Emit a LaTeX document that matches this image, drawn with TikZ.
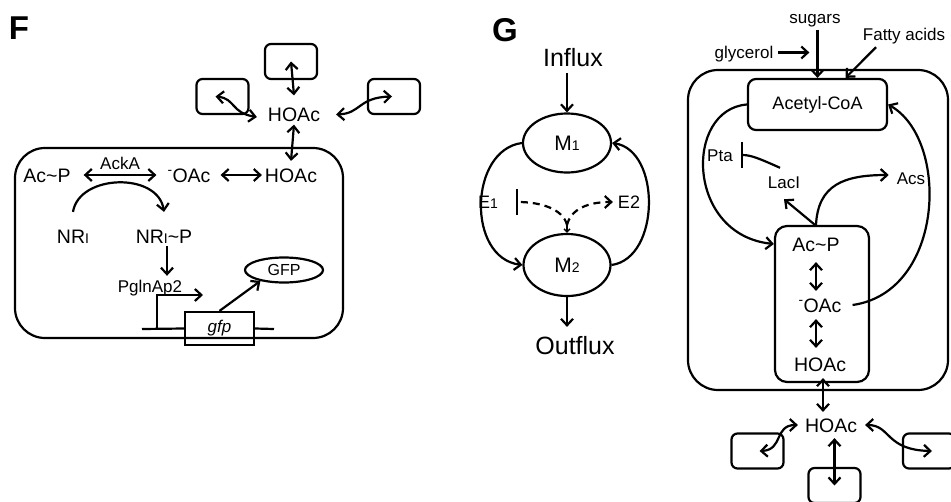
\documentclass[tikz,border=0pt]{standalone}
\usepackage{fontspec}
\setmainfont{Liberation Sans}
\usetikzlibrary{arrows.meta,shapes.geometric}
\newcommand{\lowidx}[1]{{\fontsize{14}{14}\selectfont #1}}
\newcommand{\anion}{\textsuperscript{-}}

\begin{document}
\begin{tikzpicture}[x=1pt, y=-1pt, line width=2.2pt,
	>={Straight Barb[length=6.5pt,width=12pt]},
	txt/.style={font=\fontsize{19.5}{20}\selectfont, inner sep=0pt, text height=14pt, text depth=0pt},
	sml/.style={font=\fontsize{17}{18}\selectfont, inner sep=0pt, text height=12.2pt, text depth=0pt},
	big/.style={font=\fontsize{25}{26}\selectfont, inner sep=0pt, text height=18pt, text depth=0pt},
	panel/.style={font=\fontsize{33}{34}\selectfont\bfseries, inner sep=0pt, text height=24pt, text depth=0pt},
	env/.style={draw, rounded corners=6pt, minimum width=52pt, minimum height=35pt, inner sep=0pt},
	cell/.style={draw, rounded corners=30pt, inner sep=0pt},
	pool/.style={draw, ellipse, inner sep=0pt},
	inhib/.style={-{Bar[width=26pt]}},
	flux/.style={dash pattern=on 7pt off 5pt}]
	\useasboundingbox (0,0) rectangle (951,501);

	% panel F
	\node[panel] (labF) at (19,27) {F};
	\node[env] (envT) at (291,61.5) {};
	\node[env] (envL) at (222.5,96.5) {};
	\node[env] (envR) at (394,96.5) {};
	\node[txt] (hoacX) at (294,114.5) {HOAc};
	\node[cell, minimum width=328pt, minimum height=190pt] (cellF) at (179,243) {};
	\node[txt] (acpF) at (47,175) {Ac\textasciitilde P};
	\node[txt] (oacF) at (189,175) {\anion OAc};
	\node[txt] (hoacF) at (291,175) {HOAc};
	\node[txt] (nrF) at (73,236) {NR\lowidx{I}};
	\node[txt] (nrpF) at (164,236) {NR\lowidx{I}\textasciitilde P};
	\node[sml] (pgln) at (150,286) {PglnAp2};
	\node[draw, minimum width=69pt, minimum height=33pt, inner sep=0pt, font=\fontsize{17}{18}\selectfont\itshape] (gene) at (219.5,328.5) {gfp};
	\node[pool, minimum width=78pt, minimum height=25pt, font=\fontsize{16}{17}\selectfont] (gfpP) at (284,270) {GFP};
	\coordinate (tss) at (157,329);
	\coordinate (tssEnd) at (203,295);
	\coordinate (dnaL) at (142,329);
	\coordinate (dnaR) at (274,329);

	\draw[<->] (envT.center) -- ([yshift=11pt]hoacX.north);
	\draw[<->] ([xshift=-7pt]envL.center) .. controls +(20,2) and +(-26,-4) .. ([shift={(-10pt,-2.5pt)}]hoacX.west);
	\draw[<->] ([xshift=15pt]hoacX.east) .. controls +(25,-1) and +(-34,1) .. ([xshift=-2pt]envR.center);
	\draw[<->] ([yshift=-2pt]hoacX.south) -- ([yshift=6pt]hoacF.north);
	\draw[<->] ([xshift=12pt]acpF.east) -- node[sml, above=4pt] (ackA) {AckA} ([xshift=-10pt]oacF.west);
	\draw[<->] ([xshift=9pt]oacF.east) -- ([xshift=-2pt]hoacF.west);
	\draw[->] ([yshift=16pt]nrF.north) .. controls +(6,-38) and +(-6,-40) .. ([yshift=16pt]nrpF.north);
	\draw[->] ([shift={(3pt,-2pt)}]nrpF.south) -- ([shift={(17pt,3pt)}]pgln.north);
	\draw[->] (tss) |- (tssEnd);
	\draw (dnaL) -- (gene.west);
	\draw (gene.east) -- (dnaR);
	\draw[->] (gene.north) -- (gfpP.205);

	% panel G, flux loop
	\node[panel] (labG) at (505,29) {G};
	\node[big] (influx) at (573,57) {Influx};
	\node[pool, minimum width=88pt, minimum height=59pt, font=\fontsize{21}{22}\selectfont] (m1) at (567,143) {M\lowidx{1}};
	\node[pool, minimum width=87pt, minimum height=62pt, font=\fontsize{21}{22}\selectfont] (m2) at (567,265) {M\lowidx{2}};
	\node[big] (outflux) at (575,345) {Outflux};
	\node[font=\fontsize{18}{19}\selectfont, inner sep=0pt, text height=13pt, text depth=0pt] (e1) at (488,202) {E\lowidx{1}};
	\node[font=\fontsize{18}{19}\selectfont, inner sep=0pt, text height=13pt, text depth=0pt] (e2) at (629,202) {E2};
	\coordinate (fork) at (567,225);

	\draw[->, shorten <=6pt] (influx.south -| m1.north) -- (m1.north);
	\draw[->, shorten >=8pt] (m2.south) -- (m2.south |- outflux.north);
	\draw[->] (m1.west) .. controls +(-53,7) and +(-56,-7) .. (m2.west);
	\draw[->] (m2.east) .. controls +(49,-7) and +(49,7) .. (m1.east);
	\draw[flux, inhib] (fork) .. controls +(-4,-16) and +(25,0) .. ([xshift=17pt]e1.east);
	\draw[flux, ->] (fork) .. controls +(4,-16) and +(-25,0) .. ([xshift=-4pt]e2.west);
	\draw[line width=1.4pt, -{Straight Barb[length=3pt,width=6pt]}] (fork) -- (m2.north);

	% panel G, cell
	\node[cell, minimum width=260pt, minimum height=320pt] (cellG) at (818,230) {};
	\node[draw, rounded corners=8pt, minimum width=139pt, minimum height=51pt, inner sep=0pt, font=\fontsize{18}{19}\selectfont] (acoa) at (817.5,104.5) {Acetyl-CoA};
	\node[sml] (sugars) at (815,17.5) {sugars};
	\node[sml] (glycerol) at (744,52.5) {glycerol};
	\node[sml] (fatty) at (904,34) {Fatty acids};
	\node[sml] (pta) at (720,155) {Pta};
	\node[sml] (laci) at (784,182) {LacI};
	\node[sml] (acs) at (911,178) {Acs};
	\node[draw, rounded corners=12pt, minimum width=94pt, minimum height=156pt] (pocket) at (822,304) {};
	\node[txt] (acpG) at (816,244) {Ac\textasciitilde P};
	\node[txt] (oacG) at (820,305) {\anion OAc};
	\node[txt] (hoacG) at (820,364) {HOAc};
	\node[txt] (hoacY) at (831,425) {HOAc};
	\node[env] (envGL) at (757.5,451) {};
	\node[env] (envGB) at (834.5,485.5) {};
	\node[env] (envGR) at (929,451) {};

	\draw[->, shorten <=5pt] (acoa.north |- sugars.south) -- (acoa.north);
	\draw[->] ([xshift=4pt]glycerol.east) -- ([xshift=35pt]glycerol.east);
	\draw[->] ([shift={(-28pt,-6pt)}]fatty.south) -- ([xshift=28pt]acoa.north);
	\draw[->] (acoa.west) .. controls +(-63,5) and +(-88,-9) .. (acpG -| pocket.west);
	\draw[->] ([xshift=10pt]oacG.east) .. controls +(92,-13) and +(62,35) .. (acoa.east);
	\draw[inhib] ([shift={(-4pt,7pt)}]laci.north) .. controls +(-20,-9) and +(10,0) .. ([xshift=7pt]pta.east);
	\draw[->] ([xshift=-7pt]pocket.north) -- ([yshift=-10pt]laci.south);
	\draw[->] ([xshift=-6pt]pocket.north) .. controls +(2,-40) and +(-45,0) .. ([shift={(-7pt,3pt)}]acs.west);
	\draw[<->, shorten <=10pt, shorten >=6pt] (acpG.south) -- (acpG.south |- oacG.north);
	\draw[<->, shorten <=6pt, shorten >=8pt] (acpG.south |- oacG.south) -- (acpG.south |- hoacG.north);
	\draw[<->, shorten <=6pt, shorten >=5pt] ([xshift=3pt]hoacG.south) -- ([xshift=3pt]hoacG.south |- hoacY.north);
	\draw[<->, shorten <=5pt] (hoacY.south -| envGB.center) -- (envGB.center);
	\draw[<->] ([xshift=-6pt]hoacY.west) .. controls +(-24,0) and +(24,-1) .. ([xshift=2pt]envGL.center);
	\draw[<->] ([xshift=7pt]hoacY.east) .. controls +(26,0) and +(-47,-1) .. ([xshift=3pt]envGR.center);
\end{tikzpicture}
\end{document}
